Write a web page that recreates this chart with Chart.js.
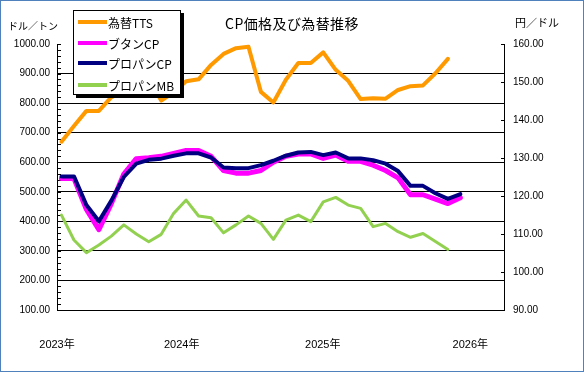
<!DOCTYPE html>
<html><head><meta charset="utf-8">
<script src="https://cdn.jsdelivr.net/npm/chart.js@4.4.1/dist/chart.umd.min.js"></script>
<style>
html,body{margin:0;padding:0;background:#fff;}
#wrap{position:relative;width:584px;height:372px;overflow:hidden;background:#fff;}
#c{position:absolute;left:0;top:0;}
#frame{position:absolute;left:0;top:0;width:584px;height:372px;box-sizing:border-box;border:1px solid #4f81bd;pointer-events:none;}
.t{position:absolute;white-space:nowrap;color:#000;font-family:"Noto Sans CJK JP","Liberation Sans",sans-serif;line-height:1;}
#title{left:0;width:584px;text-align:center;top:16px;font-size:14px;letter-spacing:0.4px;}
#ytl{left:8px;top:21px;font-size:10px;}
#y1tl{left:515px;top:17px;font-size:11px;}
#legend{position:absolute;left:73px;top:10px;width:108px;height:85px;background:#fff;border:1px solid #000;box-shadow:3px 3px 0 #000;box-sizing:border-box;}
.row{position:absolute;left:4px;height:16px;display:flex;align-items:center;font-size:12px;font-family:"Noto Sans CJK JP","Liberation Sans",sans-serif;color:#000;white-space:nowrap;}
.sw{width:29px;height:4px;margin-right:1px;}
</style></head>
<body><div id="wrap"><canvas id="c" width="584" height="372"></canvas>
<div class="t" id="title">CP価格及び為替推移</div>
<div class="t" id="ytl">ドル／トン</div>
<div class="t" id="y1tl">円／ドル</div>
<div id="legend"></div>
<div id="frame"></div>
</div>
<script>
// months from 2023/4 to 2025/12 (index 0..32)
const months = ['2023/4','2023/5','2023/6','2023/7','2023/8','2023/9','2023/10','2023/11','2023/12',
 '2024/1','2024/2','2024/3','2024/4','2024/5','2024/6','2024/7','2024/8','2024/9','2024/10','2024/11','2024/12',
 '2025/1','2025/2','2025/3','2025/4','2025/5','2025/6','2025/7','2025/8','2025/9','2025/10','2025/11','2025/12'];
const yearLabels = ['2023年','2024年','2025年','2026年'];
const yearTickAt = [-0.36, 9.64, 20.96, 32.8];
const seriesNames = ['為替TTS','ブタンCP','プロパンCP','プロパンMB'];
const exchTTS = [134.3,138.4,142.4,142.4,146.0,147.5,150.3,150.8,145.1,147.3,150.2,150.7,154.5,157.4,158.9,159.3,
 147.4,144.6,150.6,155.0,155.0,157.8,153.2,150.3,145.5,145.7,145.6,147.9,148.9,149.1,152.3,156.1];
const butaneCP = [545,545,440,372,460,560,612,615,620,630,640,640,620,572,563,563,572,600,620,628,628,
 613,624,603,603,590,572,547,490,490,475,460,480];
const propaneCP = [552,552,455,400,470,550,595,608,612,622,630,630,616,582,580,580,590,605,622,633,635,
 624,633,613,613,607,595,570,520,520,495,476,492];
const propaneMB = [421,337,294,320,350,388,357,331,356,427,472,418,412,361,388,418,393,339,404,421,399,
 466,481,455,444,382,393,365,346,359,332,305];
const leftRange = [100, 1000, 100];
const rightRange = [90, 160, 10];
const colors = ['#ff9900','#ff00ff','#000080','#92d050'];

const pts = arr => arr.map((v,i)=>({x:i,y:v}));
const FONT = '"Liberation Sans", "Noto Sans CJK JP", sans-serif';

// legend
const lg = document.getElementById('legend');
const rowTops = [3,24,44,66];
seriesNames.forEach((n,i)=>{
  const r = document.createElement('div'); r.className='row'; r.style.top = rowTops[i]+'px';
  const s = document.createElement('span'); s.className='sw'; s.style.background = colors[i];
  r.appendChild(s); r.appendChild(document.createTextNode(n)); lg.appendChild(r);
});

const axisMarks = {
  id:'axisMarks',
  beforeDatasetsDraw(chart){
    const ctx = chart.ctx, y = chart.scales.y, y1 = chart.scales.y1, a = chart.chartArea;
    ctx.save(); ctx.strokeStyle='#000'; ctx.lineWidth=1; ctx.beginPath();
    for (let v = leftRange[0]; v <= leftRange[1]; v += 20) {
      const py = Math.round(y.getPixelForValue(v)) + 0.5;
      ctx.moveTo(a.left, py); ctx.lineTo(a.left + 4, py);
    }
    for (const t of y1.ticks) {
      const py = Math.round(y1.getPixelForValue(t.value)) + 0.5;
      ctx.moveTo(a.right - 3, py); ctx.lineTo(a.right, py);
    }
    ctx.stroke(); ctx.restore();
  }
};

const common = {pointRadius:0, tension:0, borderCapStyle:'round', borderJoinStyle:'round', fill:false};
new Chart(document.getElementById('c'), {
  type:'line',
  data:{
    labels: months,
    datasets:[
      Object.assign({label:seriesNames[0], data:pts(exchTTS), yAxisID:'y1', borderColor:colors[0], borderWidth:4, order:4}, common),
      Object.assign({label:seriesNames[1], data:pts(butaneCP), yAxisID:'y', borderColor:colors[1], borderWidth:5, order:3}, common),
      Object.assign({label:seriesNames[2], data:pts(propaneCP), yAxisID:'y', borderColor:colors[2], borderWidth:4, order:2}, common),
      Object.assign({label:seriesNames[3], data:pts(propaneMB), yAxisID:'y', borderColor:colors[3], borderWidth:3, order:1}, common)
    ]
  },
  options:{
    responsive:false, animation:false, devicePixelRatio:1,
    layout:{padding:{top:44,left:0,right:0,bottom:0}},
    plugins:{legend:{display:false}, tooltip:{enabled:false}, title:{display:false}},
    scales:{
      x:{type:'linear', min:-0.36, max:35.5,
        grid:{display:false, drawTicks:false},
        border:{display:true, color:'#000', width:1},
        afterBuildTicks(s){ s.ticks = yearTickAt.map(v=>({value:v})); },
        ticks:{autoSkip:false, maxRotation:0, minRotation:0, padding:28, color:'#000',
          font:{size:11, family:FONT}, callback:(v,i)=>yearLabels[i]},
        afterFit(s){ s.height = 62; }
      },
      y:{position:'left', min:leftRange[0], max:leftRange[1],
        ticks:{stepSize:leftRange[2], padding:7, color:'#000', font:{size:10, family:FONT}, callback:v=>Number(v).toFixed(2)},
        grid:{drawTicks:false, lineWidth:1, color:c=> (c.tick && c.tick.value===leftRange[1]) ? 'rgba(0,0,0,0)' : '#000'},
        border:{display:true, color:'#000', width:1},
        afterFit(s){ s.width = 57; }
      },
      y1:{position:'right', min:rightRange[0], max:rightRange[1],
        ticks:{stepSize:rightRange[2], padding:9, color:'#000', font:{size:10, family:FONT}, callback:v=>Number(v).toFixed(2)},
        grid:{drawOnChartArea:false, drawTicks:false},
        border:{display:true, color:'#000', width:1},
        afterFit(s){ s.width = 80; }
      }
    }
  },
  plugins:[axisMarks]
});
</script>
</body></html>
